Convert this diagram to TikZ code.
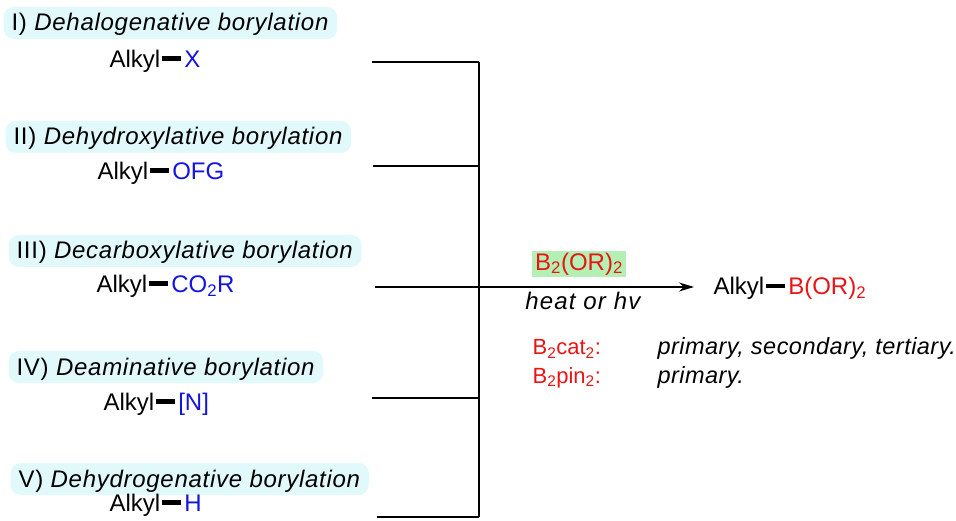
\documentclass[tikz,border=0pt]{standalone}
\usepackage{fontspec}
\setmainfont{Liberation Sans}
\usetikzlibrary{arrows.meta}
\definecolor{grpblue}{RGB}{20,20,225}
\definecolor{grpred}{RGB}{235,20,20}
\definecolor{tagcyan}{RGB}{226,249,252}
\definecolor{reagreen}{RGB}{180,240,180}
\newcommand{\bnd}{\hspace{2pt}\rule[6.5pt]{19pt}{5pt}\hspace{3pt}}
\newcommand{\blu}[1]{\textcolor{grpblue}{#1}}
\newcommand{\rd}[1]{\textcolor{grpred}{#1}}
\begin{document}
\begin{tikzpicture}[x=1pt,y=-1pt,line width=1.2pt,font=\fontsize{24}{28}\selectfont,
  tag/.style={fill=tagcyan,rounded corners=10pt,anchor=base west,inner xsep=8pt,inner ysep=4pt,text height=20pt,text depth=4pt,
    font=\fontsize{24}{28}\selectfont\addfontfeatures{LetterSpace=3}},
  mol/.style={anchor=base west,inner sep=0pt},
  note/.style={anchor=base west,inner sep=0pt,font=\fontsize{22}{26}\selectfont},
  cls/.style={anchor=base west,inner sep=0pt,font=\fontsize{23.5}{27}\selectfont\addfontfeatures{LetterSpace=2}}]
  \useasboundingbox (0,0) rectangle (956,521);
  %tipos de borilacao
  \node[tag] (t1) at (3,31) {I) \textit{Dehalogenative borylation}};
  \node[tag] (t2) at (5,145) {II) \textit{Dehydroxylative borylation}};
  \node[tag] (t3) at (8,259) {III) \textit{Decarboxylative borylation}};
  \node[tag] (t4) at (8,375) {IV) \textit{Deaminative borylation}};
  \node[tag] (t5) at (10,487) {V) \textit{Dehydrogenative borylation}};
  %substratos
  \node[mol] (m1) at (109,68) {Alkyl\bnd\blu{X}};
  \node[mol] (m2) at (97,180) {Alkyl\bnd\blu{OFG}};
  \node[mol] (m3) at (96,293) {Alkyl\bnd\blu{CO\textsubscript{2}R}};
  \node[mol] (m4) at (103,410) {Alkyl\bnd\blu{[N]}};
  \node[mol] (m5) at (109,511) {Alkyl\bnd\blu{H}};
  %colchete
  \coordinate (v1) at (372,62);
  \coordinate (v2) at (373,166);
  \coordinate (v3) at (375,287);
  \coordinate (v4) at (372,398);
  \coordinate (v5) at (377,517);
  \coordinate (j1) at (479,62);
  \coordinate (j2) at (479,166);
  \coordinate (j3) at (479,287);
  \coordinate (j4) at (479,398);
  \coordinate (j5) at (479,517);
  \coordinate (v6) at (694,287);
  \draw (v1) -- (j1);
  \draw (v2) -- (j2);
  \draw (v4) -- (j4);
  \draw (v5) -- (j5);
  \draw (j1) -- (j5);
  %seta
  \draw[-{Stealth[length=15pt,width=9pt]}] (v3) -- (v6);
  \node[fill=reagreen,inner xsep=3pt,inner ysep=2pt] (rg) at (579,264) {\rd{B\textsubscript{2}(OR)\textsubscript{2}}};
  \node[anchor=base,inner sep=0pt,font=\fontsize{24}{28}\selectfont\addfontfeatures{LetterSpace=5}] (cond) at (584,310) {\textit{heat or hv}};
  %produto
  \node[mol] (p) at (713,295) {Alkyl\bnd\rd{B(OR)\textsubscript{2}}};
  %notas
  \node[note] (n1) at (532,355) {\rd{B\textsubscript{2}cat\textsubscript{2}:}};
  \node[cls] (n2) at (657,355) {\textit{primary, secondary, tertiary.}};
  \node[note] (n3) at (532,383) {\rd{B\textsubscript{2}pin\textsubscript{2}:}};
  \node[cls] (n4) at (657,383) {\textit{primary.}};
\end{tikzpicture}
\end{document}
